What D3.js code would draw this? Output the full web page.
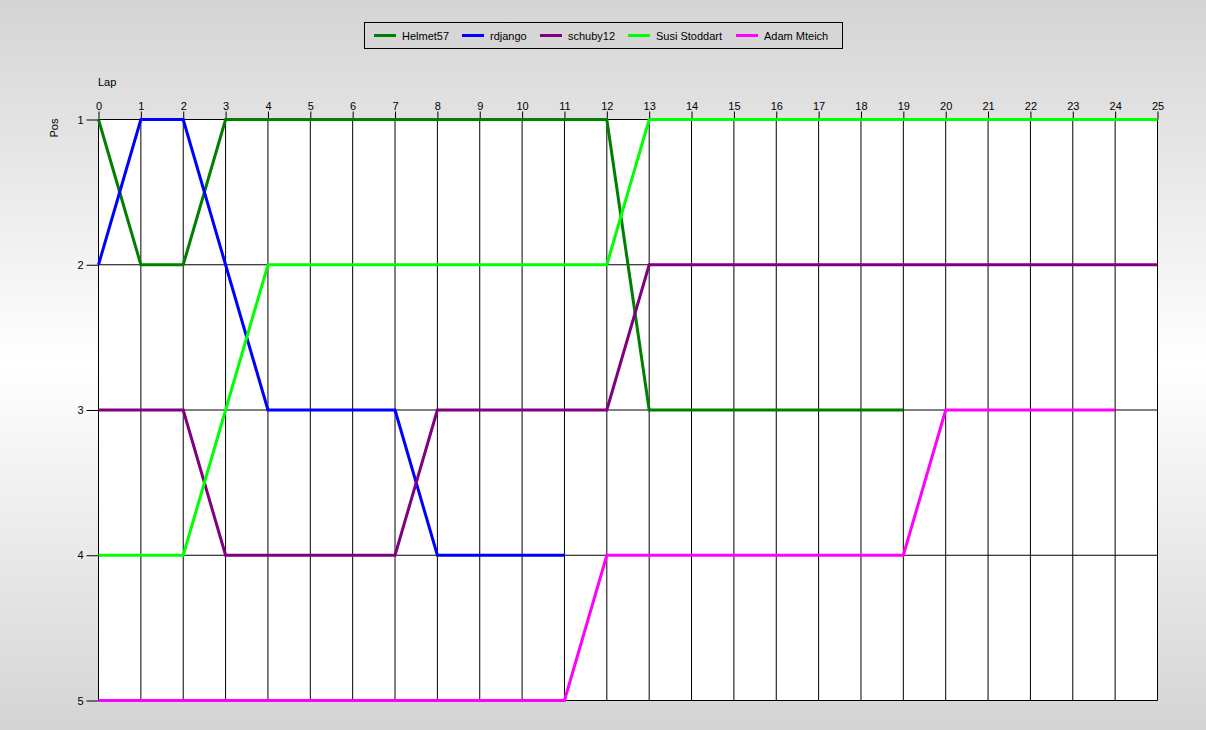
<!DOCTYPE html>
<html>
<head>
<meta charset="utf-8">
<script src="https://cdn.jsdelivr.net/npm/d3@7/dist/d3.min.js"></script>
<style>
html,body{margin:0;padding:0;}
svg{display:block;}
text{font-family:"Liberation Sans",Arial,sans-serif;font-size:11px;fill:#000;}
</style>
</head>
<body>
<svg id="chart" width="1206" height="730"></svg>
<script>
const laps = d3.range(0, 26);
const positions = [1, 2, 3, 4, 5];
const seriesNames = ["Helmet57", "rdjango", "schuby12", "Susi Stoddart", "Adam Mteich"];
const seriesColors = ["#008000", "#0000ff", "#800080", "#00ff00", "#ff00ff"];
// position per lap (index = lap number)
const helmet57 = [1,2,2,1,1,1,1,1,1,1,1,1,1,3,3,3,3,3,3,3];
const rdjango  = [2,1,1,2,3,3,3,3,4,4,4,4];
const schuby12 = [3,3,3,4,4,4,4,4,3,3,3,3,3,2,2,2,2,2,2,2,2,2,2,2,2,2];
const susi     = [4,4,4,3,2,2,2,2,2,2,2,2,2,1,1,1,1,1,1,1,1,1,1,1,1,1];
const adam     = [5,5,5,5,5,5,5,5,5,5,5,5,4,4,4,4,4,4,4,4,3,3,3,3,3];
const seriesValues = [helmet57, rdjango, schuby12, susi, adam];

const W = 1206, H = 730;
const svg = d3.select("#chart");
const defs = svg.append("defs");
const grad = defs.append("linearGradient").attr("id","bg").attr("x1",0).attr("y1",0).attr("x2",0).attr("y2",1);
grad.append("stop").attr("offset","0%").attr("stop-color","#d4d4d4");
grad.append("stop").attr("offset","50%").attr("stop-color","#ffffff");
grad.append("stop").attr("offset","100%").attr("stop-color","#d4d4d4");
svg.append("rect").attr("width",W).attr("height",H).attr("fill","url(#bg)");

const x = d3.scaleLinear().domain([0,25]).range([98.5,1157.5]);
const y = d3.scaleLinear().domain([1,5]).range([119.5,700.5]);

// plot background
svg.append("rect").attr("x",x(0)).attr("y",y(1)).attr("width",x(25)-x(0)).attr("height",y(5)-y(1)).attr("fill","#fff");

// grid
const g = svg.append("g");
g.selectAll("line.v").data(laps).join("line")
  .attr("x1",d=>x(d)).attr("x2",d=>x(d)).attr("y1",y(1)).attr("y2",y(5))
  .attr("stroke","#000").attr("stroke-width",1);
g.selectAll("line.h").data(positions).join("line")
  .attr("x1",x(0)).attr("x2",x(25)).attr("y1",d=>y(d)).attr("y2",d=>y(d))
  .attr("stroke","#000").attr("stroke-width",1);

// axes
const xAxis = d3.axisTop(x).tickValues(laps).tickFormat(d3.format("d")).tickSize(8).tickPadding(2);
const ax = svg.append("g").attr("transform",`translate(0,${y(1)})`).call(xAxis);
ax.select(".domain").remove();
ax.selectAll("text").style("font-size","11px").attr("fill","#000");

const yAxis = d3.axisLeft(y).tickValues(positions).tickFormat(d3.format("d")).tickSize(12).tickPadding(3);
const ay = svg.append("g").attr("transform",`translate(${x(0)},0)`).call(yAxis);
ay.select(".domain").remove();
ay.selectAll("text").style("font-size","11px").attr("fill","#000");

svg.append("text").attr("x",98).attr("y",86).text("Lap");
svg.append("text").attr("transform","translate(58,128) rotate(-90)").attr("text-anchor","middle").text("Pos");

// series
const line = d3.line().x((d,i)=>x(i)).y(d=>y(d));
svg.append("g").selectAll("path").data(seriesValues).join("path")
  .attr("d",line).attr("fill","none")
  .attr("stroke",(d,i)=>seriesColors[i]).attr("stroke-width",3)
  .attr("stroke-linejoin","miter");

// legend
const lg = svg.append("g");
lg.append("rect").attr("x",364.5).attr("y",22.5).attr("width",478).attr("height",26)
  .attr("fill","#d6d6d6").attr("stroke","#000").attr("stroke-width",1);
const legX = [374, 462, 540, 628, 736];
seriesNames.forEach((n,i)=>{
  lg.append("line").attr("x1",legX[i]).attr("x2",legX[i]+22).attr("y1",35.5).attr("y2",35.5)
    .attr("stroke",seriesColors[i]).attr("stroke-width",3);
  lg.append("text").attr("x",legX[i]+28).attr("y",39.5).text(n);
});
</script>
</body>
</html>
